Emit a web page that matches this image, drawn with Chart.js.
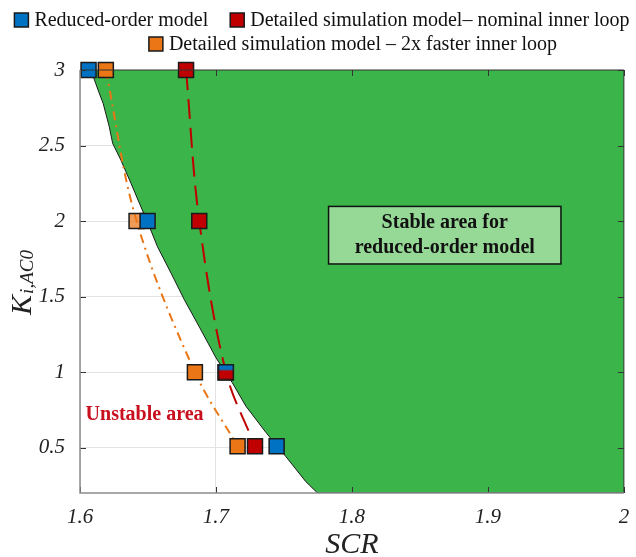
<!DOCTYPE html>
<html>
<head>
<meta charset="utf-8">
<script src="https://cdn.jsdelivr.net/npm/chart.js@4"></script>
<style>
  html, body { margin: 0; padding: 0; background: #fff; }
  #wrap { width: 636px; height: 557px; }
</style>
</head>
<body>
<div id="wrap"><canvas id="StabilityChart" width="636" height="557"></canvas></div>
<script>
// stability boundary of the reduced-order model (green area lies to its right)
const boundaryScr = [1.608, 1.614, 1.617, 1.6215, 1.624, 1.630, 1.6375, 1.6436, 1.651, 1.657, 1.667, 1.6767, 1.6877, 1.700, 1.712, 1.722, 1.7368, 1.7515, 1.766, 1.7747, 2.0];
const boundaryKi = [3.0, 2.85, 2.78, 2.625, 2.515, 2.405, 2.25, 2.12, 1.964, 1.83, 1.655, 1.48, 1.30, 1.095, 0.93, 0.775, 0.60, 0.44, 0.276, 0.2, 0.2];

const markerKi = [3, 2, 1, 0.51];
const reducedScr = [1.6063, 1.6497, 1.7073, 1.7446];
const nominalScr = [1.678, 1.6877, 1.7073, 1.7287];
const fasterScr = [1.619, 1.6416, 1.6845, 1.7159];

const xTicks = [1.6, 1.7, 1.8, 1.9, 2];
const yTicks = [0.5, 1, 1.5, 2, 2.5, 3];

const labels = [
  "Reduced-order model",
  "Detailed simulation model\u2013 nominal inner loop",
  "Detailed simulation model \u2013 2x faster inner loop",
];

const BLUE = "rgb(0,114,196)";
const RED = "rgb(192,0,0)";
const ORANGE = "rgb(234,118,22)";
const GREEN = "rgb(59,180,73)";
const SERIF = "'Liberation Serif', 'Times New Roman', serif";

const toPts = (xs, ys) => xs.map((x, i) => ({ x: x, y: ys[i] }));

// marker at Ki=1 where blue and red overlap: blue top, red bottom
function halfMarker() {
  const c = document.createElement("canvas");
  c.width = 17;
  c.height = 17;
  const g = c.getContext("2d");
  g.fillStyle = RED;
  g.fillRect(1, 1, 15, 15);
  g.fillStyle = BLUE;
  g.fillRect(1, 1, 15, 5.5);
  g.strokeStyle = "#1a1a1a";
  g.lineWidth = 1.5;
  g.strokeRect(1, 1, 15, 15);
  return c;
}

const markerBase = {
  showLine: false,
  pointStyle: "rect",
  pointRadius: 10.6,
  pointBorderWidth: 1.5,
  pointBorderColor: "#1a1a1a",
  clip: false,
};

const overlayPlugin = {
  id: "overlay",
  afterDatasetsDraw(chart) {
    const ctx = chart.ctx;
    const xs = chart.scales.x;
    const ys = chart.scales.y;
    const a = chart.chartArea;
    ctx.save();

    // axes box and inside ticks
    ctx.strokeStyle = "#333";
    ctx.lineWidth = 1;
    xTicks.forEach((v) => {
      const px = Math.round(xs.getPixelForValue(v)) + 0.5;
      ctx.beginPath();
      ctx.moveTo(px, a.bottom); ctx.lineTo(px, a.bottom - 6);
      ctx.moveTo(px, a.top); ctx.lineTo(px, a.top + 6);
      ctx.stroke();
    });
    yTicks.forEach((v) => {
      const py = Math.round(ys.getPixelForValue(v)) + 0.5;
      ctx.beginPath();
      ctx.moveTo(a.left, py); ctx.lineTo(a.left + 6, py);
      ctx.moveTo(a.right, py); ctx.lineTo(a.right - 6, py);
      ctx.stroke();
    });
    ctx.beginPath();
    ctx.moveTo(a.left, a.top); ctx.lineTo(a.right, a.top); ctx.lineTo(a.right, a.bottom);
    ctx.stroke();
    ctx.strokeStyle = "#8c8c8c";
    ctx.lineWidth = 1.5;
    ctx.beginPath();
    ctx.moveTo(a.left, a.top); ctx.lineTo(a.left, a.bottom); ctx.lineTo(a.right, a.bottom);
    ctx.stroke();

    // "Stable area" box
    const bx0 = xs.getPixelForValue(1.7828), bx1 = xs.getPixelForValue(1.9537);
    const by0 = ys.getPixelForValue(2.097), by1 = ys.getPixelForValue(1.716);
    ctx.fillStyle = "rgb(150,216,150)";
    ctx.fillRect(bx0, by0, bx1 - bx0, by1 - by0);
    ctx.strokeStyle = "#111";
    ctx.lineWidth = 1.5;
    ctx.strokeRect(bx0, by0, bx1 - bx0, by1 - by0);
    ctx.fillStyle = "#111";
    ctx.font = "bold 20px " + SERIF;
    ctx.textAlign = "center";
    ctx.textBaseline = "middle";
    const cx = (bx0 + bx1) / 2;
    ctx.fillText("Stable area for", cx, ys.getPixelForValue(1.989));
    ctx.fillText("reduced-order model", cx, ys.getPixelForValue(1.824));

    // "Unstable area"
    ctx.fillStyle = "rgb(200,16,30)";
    ctx.fillText("Unstable area", xs.getPixelForValue(1.6475), ys.getPixelForValue(0.72));
    ctx.restore();
  },
  afterDraw(chart) {
    const ctx = chart.ctx;
    const a = chart.chartArea;
    ctx.save();

    // axis titles
    ctx.fillStyle = "#222";
    ctx.textBaseline = "middle";
    ctx.textAlign = "center";
    ctx.font = "italic 30px " + SERIF;
    ctx.fillText("SCR", (a.left + a.right) / 2, 545);

    ctx.translate(23, 283);
    ctx.rotate(-Math.PI / 2);
    ctx.font = "italic 30px " + SERIF;
    const kw = ctx.measureText("K").width;
    ctx.font = "italic 19px " + SERIF;
    const sw = ctx.measureText("i,AC0").width;
    let x0 = -(kw + sw) / 2;
    ctx.textAlign = "left";
    ctx.font = "italic 30px " + SERIF;
    ctx.fillText("K", x0, 0);
    ctx.font = "italic 19px " + SERIF;
    ctx.fillText("i,AC0", x0 + kw + 1, 5);
    ctx.setTransform(1, 0, 0, 1, 0, 0);

    // legend
    const colors = [BLUE, RED, ORANGE];
    ctx.font = "20px " + SERIF;
    ctx.textAlign = "left";
    const w = labels.map((t) => ctx.measureText(t).width);
    const itemW = (i) => 14 + 6 + w[i];
    const rows = [
      { items: [0, 1], center: 322, y: 20 },
      { items: [2], center: 353, y: 44 },
    ];
    rows.forEach((r) => {
      const total = r.items.reduce((s, i) => s + itemW(i), 0) + 22 * (r.items.length - 1);
      let x = r.center - total / 2;
      r.items.forEach((i) => {
        ctx.fillStyle = colors[i];
        ctx.fillRect(x, r.y - 7, 14, 14);
        ctx.strokeStyle = "#1a1a1a";
        ctx.lineWidth = 1.5;
        ctx.strokeRect(x, r.y - 7, 14, 14);
        ctx.fillStyle = "#111";
        ctx.fillText(labels[i], x + 20, r.y + 1);
        x += itemW(i) + 22;
      });
    });
    ctx.restore();
  },
};

const ctx = document.getElementById("StabilityChart").getContext("2d");
new Chart(ctx, {
  type: "line",
  data: {
    datasets: [
      {
        ...markerBase,
        label: labels[1],
        data: toPts(nominalScr, markerKi),
        backgroundColor: RED,
        pointBackgroundColor: RED,
        pointStyle: ["rect", "rect", halfMarker(), "rect"],
      },
      {
        ...markerBase,
        label: labels[0],
        data: toPts(reducedScr, markerKi),
        backgroundColor: BLUE,
        pointBackgroundColor: BLUE,
      },
      {
        ...markerBase,
        label: labels[2],
        data: toPts(fasterScr, markerKi),
        backgroundColor: ORANGE,
        pointBackgroundColor: [ORANGE, "rgba(234,118,22,0.72)", ORANGE, ORANGE],
      },
      {
        label: "nominal-line",
        data: toPts(nominalScr, markerKi),
        borderColor: RED,
        borderWidth: 2,
        borderDash: [20, 9],
        pointRadius: 0,
        tension: 0.35,
        fill: false,
      },
      {
        label: "faster-line",
        data: toPts(fasterScr, markerKi),
        borderColor: ORANGE,
        borderWidth: 2,
        borderDash: [9, 5, 2, 5],
        pointRadius: 0,
        tension: 0.35,
        fill: false,
      },
      {
        label: "stable-area",
        data: toPts(boundaryScr, boundaryKi),
        borderColor: "#1a1a1a",
        borderWidth: 1,
        backgroundColor: GREEN,
        pointRadius: 0,
        tension: 0,
        fill: "end",
      },
    ],
  },
  options: {
    responsive: false,
    animation: false,
    events: [],
    layout: { padding: { top: 70, right: 9, left: 0, bottom: 0 } },
    plugins: {
      legend: { display: false },
      tooltip: { enabled: false },
    },
    scales: {
      x: {
        type: "linear",
        min: 1.6,
        max: 2,
        afterBuildTicks: (s) => { s.ticks = xTicks.map((v) => ({ value: v })); },
        afterFit: (s) => { s.height = 64; s.paddingLeft = 0; s.paddingRight = 0; },
        grid: { color: "#e3e3e3", drawTicks: false },
        border: { display: false },
        ticks: {
          padding: 12,
          color: "#222",
          font: { family: SERIF, size: 21, style: "italic" },
          callback: (v) => String(v),
        },
      },
      y: {
        type: "linear",
        min: 0.2,
        max: 3,
        afterBuildTicks: (s) => { s.ticks = yTicks.map((v) => ({ value: v })); },
        afterFit: (s) => { s.width = 80; s.paddingTop = 0; s.paddingBottom = 0; },
        grid: { color: "#e3e3e3", drawTicks: false },
        border: { display: false },
        ticks: {
          padding: 15,
          color: "#222",
          font: { family: SERIF, size: 21, style: "italic" },
          callback: (v) => String(v),
        },
      },
    },
  },
  plugins: [overlayPlugin],
});
</script>
</body>
</html>
